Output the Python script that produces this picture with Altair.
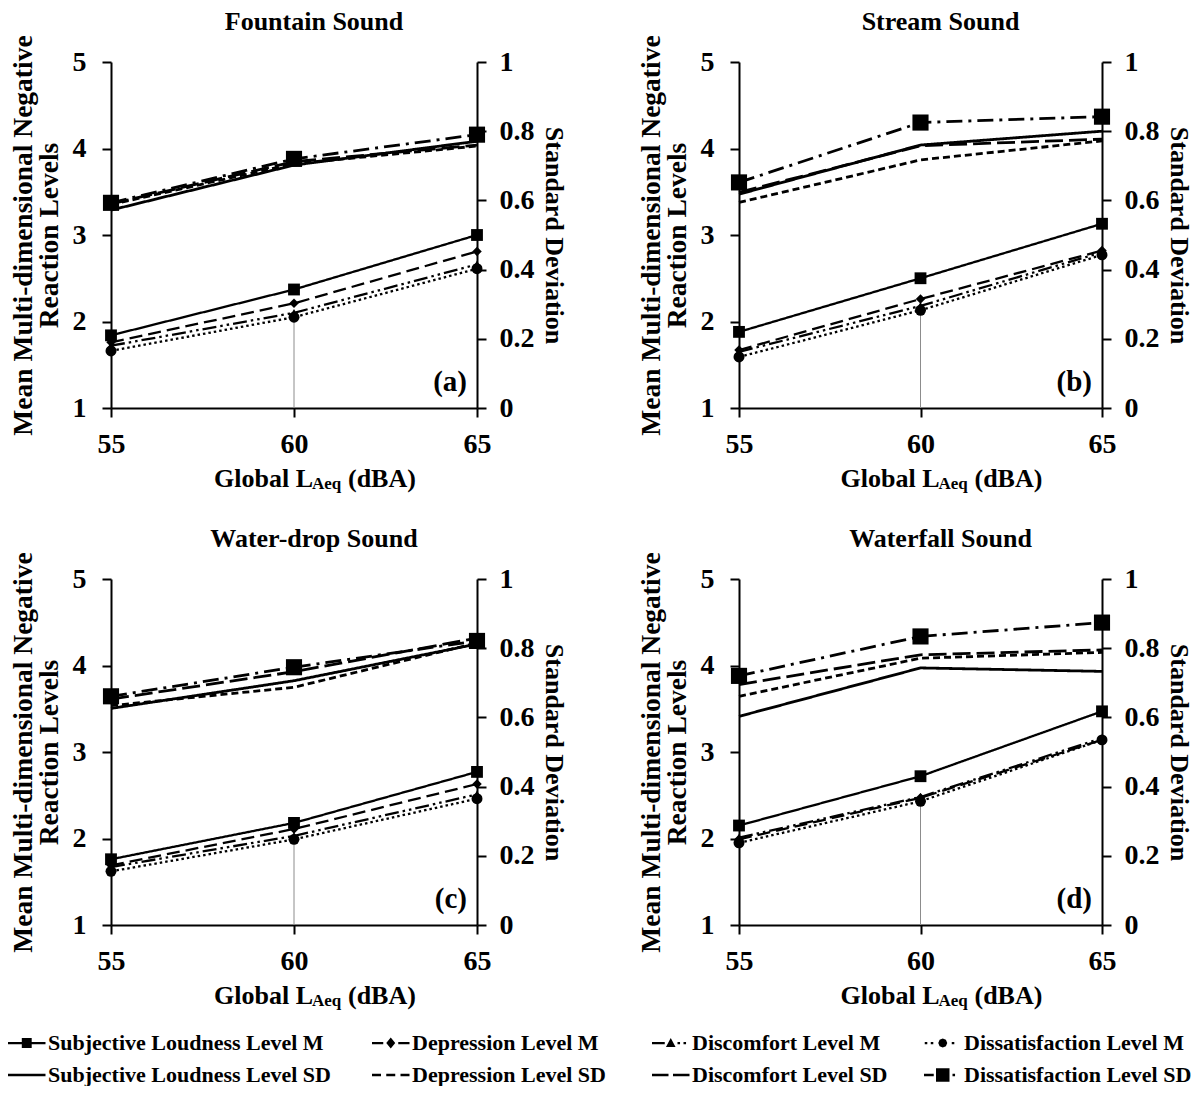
import altair as alt
import pandas as pd

# ---------------- data ----------------
LEVELS = [55, 60, 65]
PANELS = ["Fountain Sound", "Stream Sound", "Water-drop Sound", "Waterfall Sound"]
TAGS = ["(a)", "(b)", "(c)", "(d)"]
M_NAMES = ["Subjective Loudness Level M", "Depression Level M",
           "Discomfort Level M", "Dissatisfaction Level M"]
SD_NAMES = ["Subjective Loudness Level SD", "Depression Level SD",
            "Discomfort Level SD", "Dissatisfaction Level SD"]
ALL_NAMES = M_NAMES + SD_NAMES
X_TITLE_PARTS = ["Global L", "Aeq", "(dBA)"]
Y_LEFT_TITLE = ["Mean Multi-dimensional Negative", "Reaction Levels"]
Y_RIGHT_TITLE = "Standard Deviation"
LEFT_TICKS = [1, 2, 3, 4, 5]
RIGHT_TICKS = [0, 0.2, 0.4, 0.6, 0.8, 1]

# one row per panel (a, b, c, d); values at 55, 60, 65 dBA
loudness_m = [[1.84, 2.37, 3.00], [1.88, 2.50, 3.13], [1.76, 2.18, 2.77], [2.15, 2.72, 3.47]]
depression_m = [[1.76, 2.21, 2.81], [1.67, 2.26, 2.82], [1.69, 2.11, 2.63], [1.99, 2.47, 3.14]]
discomfort_m = [[1.72, 2.10, 2.66], [1.65, 2.18, 2.80], [1.67, 2.03, 2.51], [2.01, 2.48, 3.16]]
dissatisfaction_m = [[1.66, 2.05, 2.61], [1.59, 2.13, 2.77], [1.62, 1.99, 2.46], [1.95, 2.43, 3.14]]
loudness_sd = [[0.572, 0.702, 0.771], [0.618, 0.760, 0.800], [0.626, 0.706, 0.812], [0.603, 0.743, 0.733]]
depression_sd = [[0.588, 0.706, 0.757], [0.594, 0.717, 0.772], [0.634, 0.687, 0.815], [0.661, 0.771, 0.788]]
discomfort_sd = [[0.590, 0.712, 0.760], [0.623, 0.758, 0.777], [0.653, 0.732, 0.829], [0.695, 0.781, 0.795]]
dissatisfaction_sd = [[0.593, 0.720, 0.790], [0.652, 0.825, 0.842], [0.661, 0.745, 0.821], [0.720, 0.834, 0.874]]

SERIES_VALUES = [loudness_m, depression_m, discomfort_m, dissatisfaction_m,
                 loudness_sd, depression_sd, discomfort_sd, dissatisfaction_sd]

rows = []
for p_i, panel in enumerate(PANELS):
    for name, arr in zip(ALL_NAMES, SERIES_VALUES):
        for lv, v in zip(LEVELS, arr[p_i]):
            rows.append({"panel": panel, "series": name, "level": lv, "value": v})
df = pd.DataFrame(rows)

# legend entries: 4 columns x 2 rows, in series order
legend_df = pd.DataFrame({"series": ALL_NAMES,
                          "row": [k // 4 for k in range(len(ALL_NAMES))],
                          "col": [k % 4 for k in range(len(ALL_NAMES))]})

# ---------------- styles ----------------
FONT = "Liberation Serif"
DASHES = {
    M_NAMES[0]: [1, 0], M_NAMES[1]: [13, 6], M_NAMES[2]: [14, 4, 2.5, 4, 2.5, 4], M_NAMES[3]: [2.5, 3],
    SD_NAMES[0]: [1, 0], SD_NAMES[1]: [7, 4], SD_NAMES[2]: [18, 6], SD_NAMES[3]: [16, 6, 3, 6],
}
M_SHAPES = [("square", 140), ("diamond", 90), ("triangle-up", 80), ("circle", 120)]


def rect(x0, x1, h):
    return f"M{x0},{-h}H{x1}V{h}H{x0}Z"


HM, HS = 0.075, 0.09
SQ = "M-0.33,-0.33H0.33V0.33H-0.33Z"
DIA = "M0,-0.36L0.3,0L0,0.36L-0.3,0Z"
TRI = "M0,-0.34L0.32,0.26L-0.32,0.26Z"
CIR = "M-0.3,0L-0.21,-0.21L0,-0.3L0.21,-0.21L0.3,0L0.21,0.21L0,0.3L-0.21,0.21Z"
BIGSQ = "M-0.45,-0.45H0.45V0.45H-0.45Z"
LEGEND_PATHS = [
    rect(-1.25, 1.25, HM) + SQ,
    rect(-1.25, -0.5, HM) + rect(0.5, 1.25, HM) + DIA,
    rect(-1.25, -0.4, HM) + TRI + rect(0.45, 0.62, HM) + rect(0.85, 1.02, HM),
    rect(-1.2, -1.03, HM) + rect(-0.8, -0.63, HM) + CIR + rect(0.6, 0.77, HM),
    rect(-1.25, 1.25, HS),
    rect(-1.25, -0.65, HS) + rect(-0.3, 0.3, HS) + rect(0.65, 1.25, HS),
    rect(-1.25, -0.15, HS) + rect(0.15, 1.25, HS),
    rect(-1.25, -0.6, HS) + BIGSQ + rect(0.65, 0.82, HS),
]
# layout: left edge of each legend column, relative to the left plot edge of panel (a)
LEGEND_COL_X = [-103, 261, 541, 813]

H = 346


def make_panel(i, w):
    sub = df[df.panel == PANELS[i]]
    base = alt.Chart(sub)
    xenc = alt.X("level:Q", scale=alt.Scale(domain=[55, 65], nice=False, zero=False),
                 axis=alt.Axis(values=LEVELS, title=None, labelPadding=13, labelFlush=False))
    yl = alt.Y("value:Q", scale=alt.Scale(domain=[1, 5], nice=False, zero=False),
               axis=alt.Axis(orient="left", values=LEFT_TICKS, title=Y_LEFT_TITLE,
                             titleFontSize=27.5, titleLineHeight=26,
                             labelPadding=16, titlePadding=9))
    yr = alt.Y("value:Q", scale=alt.Scale(domain=[0, 1], nice=False, zero=False),
               axis=alt.Axis(orient="right", values=RIGHT_TICKS, format="~g",
                             title=Y_RIGHT_TITLE, labelPadding=13, titlePadding=6))
    dash = alt.StrokeDash("series:N",
                          scale=alt.Scale(domain=ALL_NAMES, range=[DASHES[n] for n in ALL_NAMES]),
                          legend=None)
    m = base.transform_filter(alt.FieldOneOfPredicate(field="series", oneOf=M_NAMES))
    sd = base.transform_filter(alt.FieldOneOfPredicate(field="series", oneOf=SD_NAMES))

    drop = base.transform_filter(
        (alt.datum.series == M_NAMES[3]) & (alt.datum.level == 60)
    ).mark_rule(color="#8c8c8c", strokeWidth=1).encode(x=xenc, y=yl, y2=alt.datum(1))
    m_lines = m.mark_line(color="black", strokeWidth=2.3).encode(
        x=xenc, y=yl, strokeDash=dash, detail="series:N")
    m_pts = [
        base.transform_filter(alt.datum.series == n).mark_point(
            shape=s, size=z, filled=True, color="black", opacity=1).encode(x=xenc, y=yl)
        for n, (s, z) in zip(M_NAMES, M_SHAPES)
    ]
    tag = alt.Chart(pd.DataFrame({"t": [TAGS[i]]})).mark_text(
        font=FONT, fontSize=29, fontWeight="bold", align="right", baseline="alphabetic",
        color="black").encode(x=alt.value(w - 10), y=alt.value(H - 17), text="t:N")
    xt = pd.DataFrame({"a": [X_TITLE_PARTS[0]], "b": [X_TITLE_PARTS[1]], "c": [X_TITLE_PARTS[2]]})
    L = w / 2 + 20 - 100
    t1 = alt.Chart(xt).mark_text(font=FONT, fontSize=26, fontWeight="bold", align="left",
                                 baseline="alphabetic", color="black").encode(
        x=alt.value(L), y=alt.value(H + 79), text="a:N")
    t2 = alt.Chart(xt).mark_text(font=FONT, fontSize=17, fontWeight="bold", align="left",
                                 baseline="alphabetic", color="black").encode(
        x=alt.value(L + 98), y=alt.value(H + 81), text="b:N")
    t3 = alt.Chart(xt).mark_text(font=FONT, fontSize=26, fontWeight="bold", align="left",
                                 baseline="alphabetic", color="black").encode(
        x=alt.value(L + 134), y=alt.value(H + 79), text="c:N")

    left = alt.layer(drop, m_lines, *m_pts, tag, t1, t2, t3)

    sd_lines = sd.mark_line(color="black", strokeWidth=2.8).encode(
        x=xenc, y=yr, strokeDash=dash, detail="series:N")
    sd_pts = base.transform_filter(alt.datum.series == SD_NAMES[3]).mark_point(
        shape="square", size=260, filled=True, color="black", opacity=1).encode(x=xenc, y=yr)
    right = alt.layer(sd_lines, sd_pts)

    return alt.layer(left, right).resolve_scale(y="independent").properties(
        width=w, height=H,
        title=alt.TitleParams(text=PANELS[i], anchor="middle", frame="group", dx=20, offset=0))


# ---------------- legend (drawn as its own small chart) ----------------
lbase = alt.Chart(legend_df)
ly = alt.Y("row:Q", scale=alt.Scale(domain=[0, 1], range=[13, 45]), axis=None)
lshape = alt.Shape("series:N", scale=alt.Scale(domain=ALL_NAMES, range=LEGEND_PATHS), legend=None)
legend_layers = []
for c, cx in enumerate(LEGEND_COL_X):
    part = lbase.transform_filter(alt.datum.col == c)
    legend_layers.append(part.mark_point(filled=True, color="black", opacity=1, size=900,
                                         strokeWidth=0).encode(
        x=alt.value(cx + 18.75), y=ly, shape=lshape))
    legend_layers.append(part.mark_text(align="left", baseline="middle", font=FONT, fontSize=22,
                                        fontWeight="bold", color="black").encode(
        x=alt.value(cx + 40), y=ly, text="series:N"))
legend_chart = alt.layer(*legend_layers).properties(width=1, height=54)

row1 = alt.hconcat(make_panel(0, 366), make_panel(1, 363), spacing=71)
row2 = alt.hconcat(make_panel(2, 366), make_panel(3, 363), spacing=71)
grid = alt.vconcat(row1, row2, spacing=33)

chart = alt.vconcat(grid, legend_chart, spacing=21).properties(
    padding={"left": 0, "top": 0, "right": 0, "bottom": 0}
).configure_view(stroke=None).configure_axis(
    labelFont=FONT, labelFontSize=28, labelFontWeight="bold", labelColor="black",
    titleFont=FONT, titleFontSize=26, titleFontWeight="bold", titleColor="black",
    titleLineHeight=27, domainColor="black", domainWidth=2, tickColor="black",
    tickWidth=2, tickSize=9, grid=False
).configure_title(font=FONT, fontSize=26, fontWeight="bold", color="black")

chart.save("out.html", embed_options={"renderer": "svg", "actions": False})
